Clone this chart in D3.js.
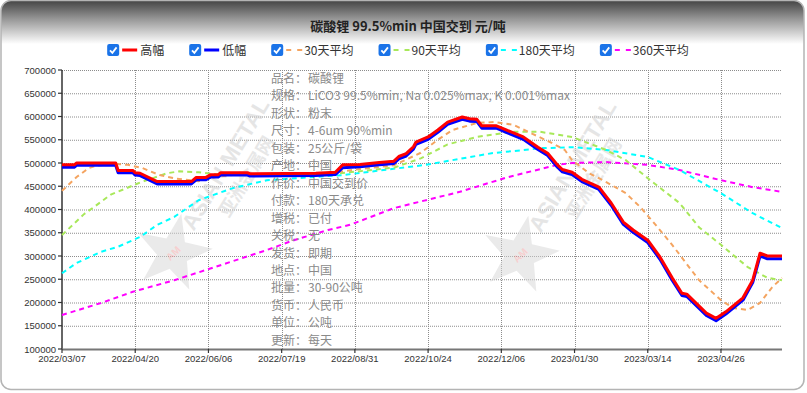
<!DOCTYPE html>
<html><head><meta charset="utf-8">
<script src="https://cdn.jsdelivr.net/npm/d3@7"></script>
<style>html,body{margin:0;padding:0;background:#fff;}svg{display:block;}</style>
</head><body>
<svg id="chart" width="807" height="393"></svg>
<script>
// ---------- data ----------
const titleText = "碳酸锂 99.5%min 中国交到 元/吨";
const xTickIdx = [0, 30, 60, 90, 120, 150, 180, 210, 240, 270];
const xTickLabels = ["2022/03/07","2022/04/20","2022/06/06","2022/07/19","2022/08/31","2022/10/24","2022/12/06","2023/01/30","2023/03/14","2023/04/26"];
const yTicks = [100000,150000,200000,250000,300000,350000,400000,450000,500000,550000,600000,650000,700000];
const lastIdx = 295;

const hiIdx = [0,5,6,22,23,29,30,32,39,53,55,59,61,64,65,76,77,104,112,115,122,130,136,138,141,144,145,150,154,158,164,167,170,172,178,182,189,195,199,203,205,209,213,220,225,230,234,240,245,250,254,256,264,268,272,279,283,286,289,295];
const hiVals = [496000,496000,500000,500000,484000,484000,479000,478000,460000,460000,469000,469000,475000,475000,479000,479000,477000,478000,480000,496000,497000,501000,504000,514000,520000,535000,545000,556000,571000,588000,599000,595000,594000,580000,580000,571000,556000,534000,521000,496000,486000,480000,465000,448000,414000,373000,356000,334000,298000,253000,220000,218000,177000,166000,180000,210000,248000,306000,300000,300000];
const loVals = [491000,491000,495000,495000,479000,479000,474000,473000,455000,455000,464000,464000,470000,470000,474000,474000,472000,473000,475000,490000,492000,496000,499000,509000,515000,530000,540000,551000,566000,583000,594000,590000,589000,575000,575000,566000,551000,529000,516000,491000,481000,475000,460000,443000,409000,368000,351000,329000,293000,248000,215000,213000,172000,161000,175000,205000,243000,300000,294000,294000];

const ma30Idx = [0,6,11,14,22,27,33,40,47,56,63,70,90,110,115,122,136,147,154,160,170,177,185,193,200,206,209,216,223,231,237,244,250,261,270,275,281,286,291,295];
const ma30 = [440000,470000,489000,494000,498000,496000,489000,474000,466000,461000,470000,474000,476000,478000,482000,487000,495000,522000,550000,571000,586000,588000,582000,562000,545000,528000,506000,478000,459000,435000,405000,362000,324000,248000,205000,188000,184000,199000,233000,253000];

const ma90Idx = [0,9,13,20,32,43,48,56,65,80,105,114,136,147,158,170,184,196,209,223,231,241,253,261,270,281,289,295];
const ma90 = [345000,390000,405000,432000,458000,478000,482000,480000,475000,476000,476000,478000,490000,510000,540000,556000,567000,567000,556000,528000,506000,463000,414000,362000,324000,276000,253000,248000];

const ma180Idx = [0,6,16,23,32,39,46,56,70,84,115,149,176,197,210,223,240,253,270,283,295];
const ma180 = [263000,285000,309000,320000,341000,367000,384000,420000,446000,463000,474000,496000,521000,532000,534000,528000,513000,485000,435000,392000,360000];

const ma360Idx = [0,16,29,46,59,84,95,109,118,136,163,183,203,209,223,240,253,270,283,295];
const ma360 = [173000,199000,223000,248000,270000,313000,334000,356000,367000,403000,438000,470000,496000,500000,502000,496000,485000,463000,448000,438000];

const legendNames = ["高幅","低幅","30天平均","90天平均","180天平均","360天平均"];
const seriesColors = ["#ff0000","#0000ff","#f4a460","#a8e85a","#00ffff","#ff00ff"];

const infoLabels = ["品名：","规格：","形状：","尺寸：","包装：","产地：","作价：","付款：","增税：","关税：","发货：","地点：","批量：","货币：","单位：","更新："];
const infoValues = ["碳酸锂","LiCO3 99.5%min, Na 0.025%max, K 0.001%max","粉末","4-6um 90%min","25公斤/袋","中国","中国交到价","180天承兑","已付","无","即期","中国","30-90公吨","人民币","公吨","每天"];

// ---------- layout ----------
const W = 807, H = 393;
const M = {left: 62, right: 782, top: 70, bottom: 349};
const svg = d3.select("#chart");
const CJK = "'Noto Sans CJK SC','Noto Sans',sans-serif";
const LAT = "'Liberation Sans',Arial,sans-serif";

const defs = svg.append("defs");
const grad = defs.append("linearGradient").attr("id","hdr").attr("x1",0).attr("y1",0).attr("x2",0).attr("y2",1);
grad.append("stop").attr("offset","0%").attr("stop-color","#424242");
grad.append("stop").attr("offset","45%").attr("stop-color","#9a9a9a");
grad.append("stop").attr("offset","100%").attr("stop-color","#ffffff");
defs.append("clipPath").attr("id","frameClip").append("rect")
  .attr("x",1).attr("y",0.5).attr("width",803).attr("height",389).attr("rx",10);

// frame
svg.append("rect").attr("x",1).attr("y",0.5).attr("width",803).attr("height",389).attr("rx",10)
  .attr("fill","#fff");
svg.append("rect").attr("x",0).attr("y",0).attr("width",W).attr("height",44)
  .attr("fill","url(#hdr)").attr("clip-path","url(#frameClip)");
svg.append("rect").attr("x",1).attr("y",0.5).attr("width",803).attr("height",389).attr("rx",10)
  .attr("fill","none").attr("stroke","#b4b4b4").attr("stroke-width",1.5);

// title
svg.append("text").attr("x",408).attr("y",31).attr("text-anchor","middle")
  .attr("font-family",CJK).attr("font-weight","bold").attr("font-size",13).attr("fill","#222")
  .text(titleText);

// scales
const x = d3.scaleLinear().domain([0,lastIdx]).range([M.left, M.right]);
const y = d3.scaleLinear().domain([100000,700000]).range([M.bottom, M.top]);

// grid
const grid = svg.append("g");
grid.selectAll("line.h").data(yTicks.filter(v=>v>100000)).join("line")
  .attr("x1",M.left).attr("x2",M.right).attr("y1",d=>y(d)+0.5).attr("y2",d=>y(d)+0.5)
  .attr("stroke","#8c8c8c").attr("stroke-width",1).attr("stroke-dasharray","1,1");
grid.selectAll("line.v").data(xTickIdx.slice(1)).join("line")
  .attr("x1",d=>Math.round(x(d))+0.5).attr("x2",d=>Math.round(x(d))+0.5).attr("y1",M.top).attr("y2",M.bottom)
  .attr("stroke","#8c8c8c").attr("stroke-width",1).attr("stroke-dasharray","1,1");

// watermarks
function starPts(cx, cy, R, r){
  const p=[];
  for(let i=0;i<10;i++){const a=-Math.PI/2+i*Math.PI/5; const rr=i%2?r:R; p.push([cx+rr*Math.cos(a), cy+rr*Math.sin(a)]);}
  return p.map(d=>d.join(",")).join(" ");
}
[[0,0],[347,2]].forEach(([dx,dy])=>{
  const g = svg.append("g").attr("opacity",0.5);
  g.append("polygon").attr("points",starPts(173+dx,253+dy,40,16)).attr("fill","#d6d6d6")
    .attr("transform",`rotate(12,${173+dx},${253+dy})`);
  g.append("text").attr("x",173+dx).attr("y",257+dy).attr("text-anchor","middle")
    .attr("font-family",LAT).attr("font-weight","bold").attr("font-size",10).attr("fill","#f0a0a0")
    .attr("transform",`rotate(-45,${173+dx},${253+dy})`).text("AM");
  g.append("text").attr("x",0).attr("y",0).attr("text-anchor","middle")
    .attr("font-family",LAT).attr("font-weight","bold").attr("font-size",22).attr("fill","#cdcdcd")
    .attr("transform",`translate(${232+dx},${168+dy}) rotate(-59)`).text("ASIAN METAL");
  g.append("text").attr("x",0).attr("y",0).attr("text-anchor","middle")
    .attr("font-family",CJK).attr("font-weight","bold").attr("font-size",18).attr("fill","#d0d0d0")
    .attr("transform",`translate(${252+dx},${180+dy}) rotate(-59)`).text("亚洲金属网");
});

// axes
const yAxis = svg.append("g");
yAxis.append("line").attr("x1",M.left).attr("x2",M.left).attr("y1",M.top).attr("y2",M.bottom)
  .attr("stroke","#333").attr("stroke-width",1.5);
yAxis.selectAll("line.t").data(yTicks).join("line")
  .attr("x1",M.left-4).attr("x2",M.left).attr("y1",d=>y(d)).attr("y2",d=>y(d))
  .attr("stroke","#333").attr("stroke-width",1.2);
yAxis.selectAll("text").data(yTicks).join("text")
  .attr("x",M.left-6).attr("y",d=>y(d)+3.5).attr("text-anchor","end")
  .attr("font-family",LAT).attr("font-size",9.5).attr("fill","#333").text(d=>d);

const xAxis = svg.append("g");
xAxis.append("line").attr("x1",M.left).attr("x2",M.right).attr("y1",M.bottom+0.5).attr("y2",M.bottom+0.5)
  .attr("stroke","#777").attr("stroke-width",2);
xAxis.selectAll("line.t").data(xTickIdx).join("line")
  .attr("x1",d=>x(d)).attr("x2",d=>x(d)).attr("y1",M.bottom).attr("y2",M.bottom+4)
  .attr("stroke","#333").attr("stroke-width",1.2);
xAxis.selectAll("text").data(xTickIdx).join("text")
  .attr("x",d=>x(d)).attr("y",M.bottom+13).attr("text-anchor","middle")
  .attr("font-family",LAT).attr("font-size",9.5).attr("fill","#333")
  .text((d,i)=>xTickLabels[i]);

// lines
const line = d3.line().x(d=>x(d[0])).y(d=>y(d[1]));
const zip = (a,b)=>a.map((v,i)=>[v,b[i]]);
const plot = svg.append("g");
const maSeries = [[ma360Idx,ma360,5],[ma180Idx,ma180,4],[ma90Idx,ma90,3],[ma30Idx,ma30,2]];
maSeries.forEach(([ix,vals,ci])=>{
  plot.append("path").attr("d",line(zip(ix,vals))).attr("fill","none")
    .attr("stroke",seriesColors[ci]).attr("stroke-width",2).attr("stroke-dasharray","5,4");
});
plot.append("path").attr("d",line(zip(hiIdx,loVals))).attr("fill","none")
  .attr("stroke",seriesColors[1]).attr("stroke-width",3).attr("stroke-linejoin","round");
plot.append("path").attr("d",line(zip(hiIdx,hiVals))).attr("fill","none")
  .attr("stroke",seriesColors[0]).attr("stroke-width",3).attr("stroke-linejoin","round");

// info block
const info = svg.append("g").attr("font-family",CJK).attr("font-size",12).attr("fill","#8a8a8a");
infoLabels.forEach((lab,i)=>{
  const yy = 83 + i*17.45;
  info.append("text").attr("x",271).attr("y",yy).text(lab);
  info.append("text").attr("x",308).attr("y",yy).text(infoValues[i]);
});

// legend
const lg = svg.append("g");
const items = [];
let cx = 0;
legendNames.forEach((name,i)=>{
  const g = lg.append("g");
  g.append("rect").attr("x",0).attr("y",-6).attr("width",12).attr("height",12).attr("rx",2).attr("fill","#1a73e8");
  g.append("path").attr("d","M2.8,0.3 L5.2,2.8 L9.4,-2.6").attr("fill","none").attr("stroke","#fff").attr("stroke-width",1.8);
  if(i<2){
    g.append("line").attr("x1",15).attr("x2",30).attr("y1",0).attr("y2",0).attr("stroke",seriesColors[i]).attr("stroke-width",3);
  } else {
    g.append("line").attr("x1",15).attr("x2",32).attr("y1",0).attr("y2",0).attr("stroke",seriesColors[i]).attr("stroke-width",2).attr("stroke-dasharray","5,6");
  }
  const t = g.append("text").attr("x",33).attr("y",4.5).attr("font-family",CJK).attr("font-size",12).attr("fill","#333").text(name);
  const tw = t.node().getComputedTextLength();
  items.push({g, x: cx});
  cx += 33 + tw + 25;
});
const totalW = cx - 25;
const startX = 398 - totalW/2;
items.forEach(it=>it.g.attr("transform",`translate(${startX+it.x},50)`));
</script>
</body></html>
